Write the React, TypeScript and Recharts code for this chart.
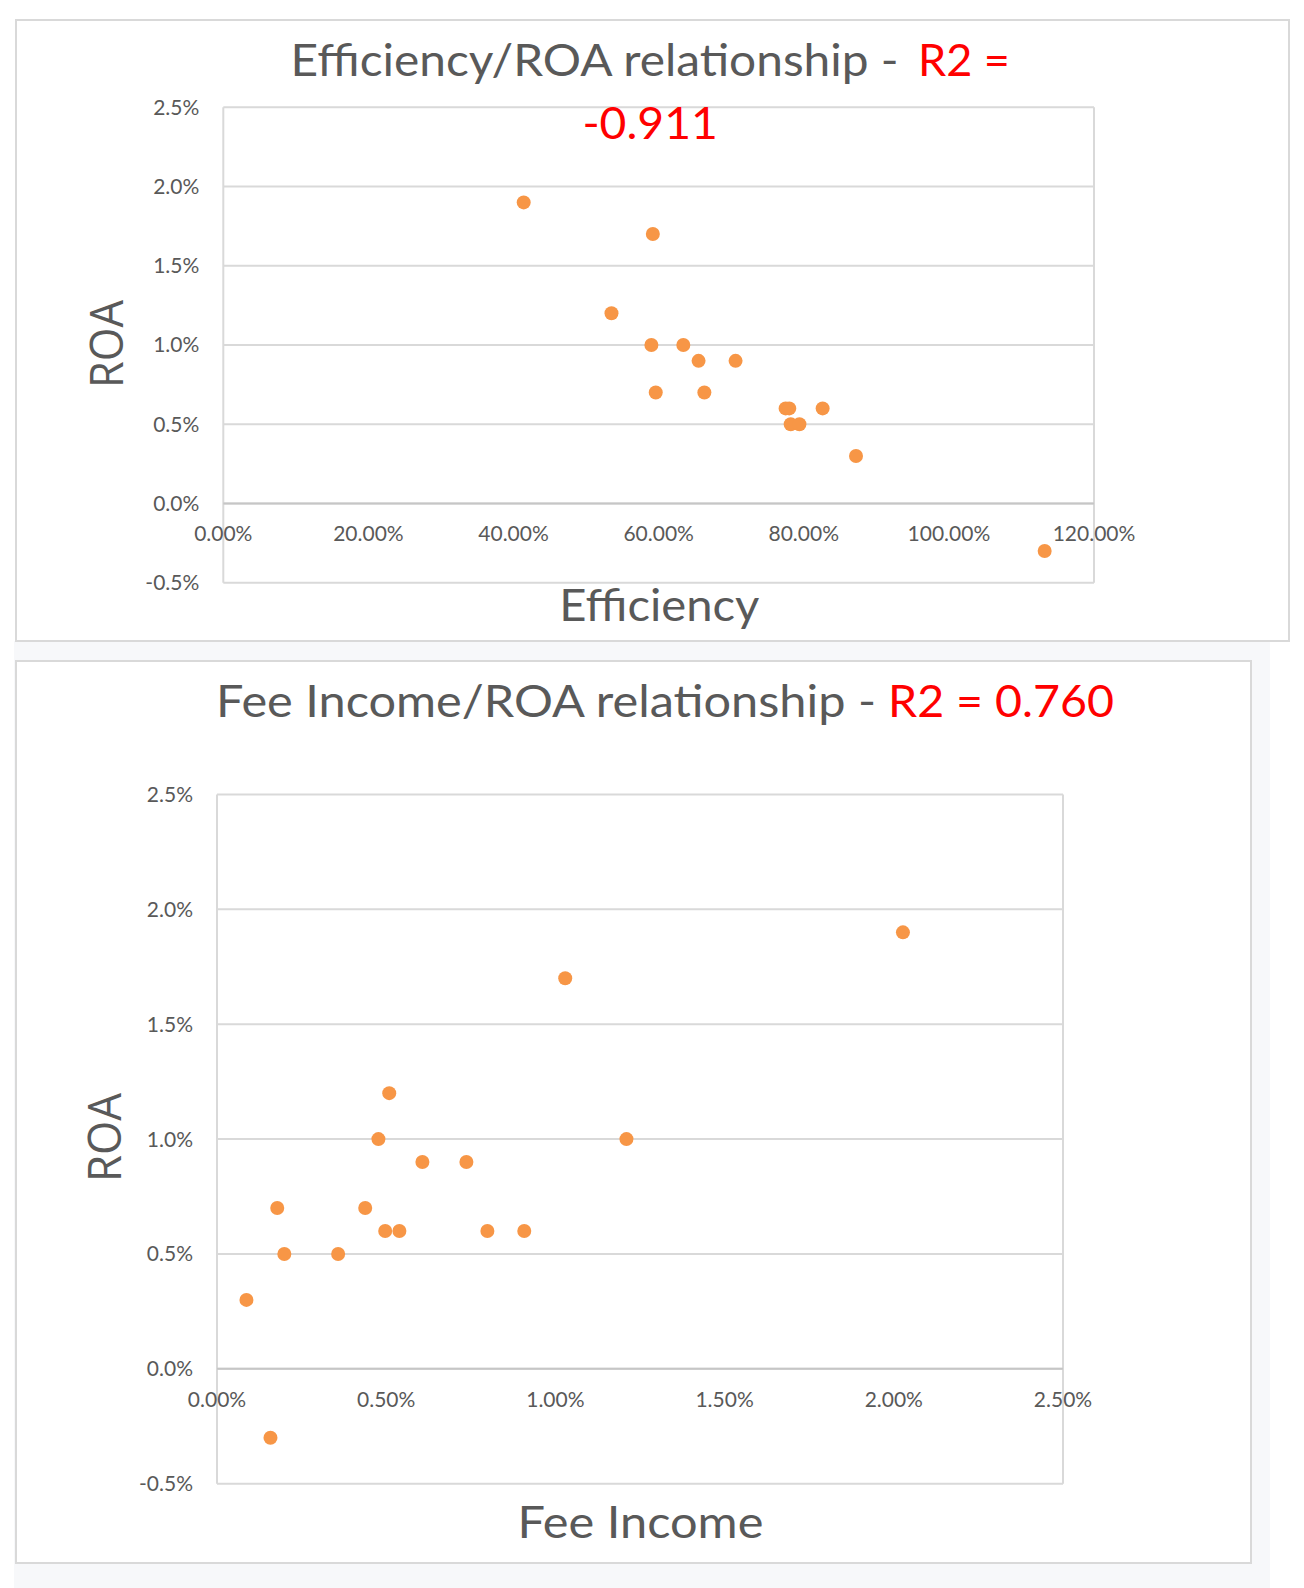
import React from 'react';
import {
  ScatterChart,
  Scatter,
  XAxis,
  YAxis,
  CartesianGrid,
  ReferenceLine,
  ReferenceDot,
} from 'recharts';

// ---------- data ----------
const efficiency = [41.4, 59.2, 53.5, 59.0, 63.4, 65.5, 70.6, 59.6, 66.3, 77.5, 78.0, 82.6, 78.2, 79.4, 87.2, 113.2];
const roaVsEfficiency = [1.9, 1.7, 1.2, 1.0, 1.0, 0.9, 0.9, 0.7, 0.7, 0.6, 0.6, 0.6, 0.5, 0.5, 0.3, -0.3];

const feeIncome = [2.027, 1.029, 0.509, 0.477, 1.21, 0.607, 0.737, 0.178, 0.438, 0.497, 0.539, 0.799, 0.908, 0.199, 0.358, 0.087, 0.158];
const roaVsFee = [1.9, 1.7, 1.2, 1.0, 1.0, 0.9, 0.9, 0.7, 0.7, 0.6, 0.6, 0.6, 0.6, 0.5, 0.5, 0.3, -0.3];

const effTicks = [0, 20, 40, 60, 80, 100, 120];
const feeTicks = [0, 0.5, 1.0, 1.5, 2.0, 2.5];
const roaTicks = [-0.5, 0, 0.5, 1.0, 1.5, 2.0, 2.5];

const titleEffGray = 'Efficiency/ROA relationship -';
const titleEffRed1 = 'R2 =';
const titleEffRed2 = '-0.911';
const titleFeeGray = 'Fee Income/ROA relationship -';
const titleFeeRed = 'R2 = 0.760';

// ---------- styles ----------
const DOT = '#F79646';
const GRID = '#d9d9d9';
const TEXT = '#595959';
const RED = '#FF0000';
const FONT = 'Lato, "Open Sans", sans-serif';

const effData = efficiency.map((x, i) => ({ x, y: roaVsEfficiency[i] }));
const feeData = feeIncome.map((x, i) => ({ x, y: roaVsFee[i] }));

const dotShape = (p: any) => <circle cx={p.cx} cy={p.cy} r={7} fill={DOT} />;

const tickStyle = { fill: TEXT, fontSize: 21, fontFamily: FONT };

function Chart({
  data,
  xTicks,
  xDomain,
  xFmt,
  width,
  height,
  margin,
}: {
  data: { x: number; y: number }[];
  xTicks: number[];
  xDomain: [number, number];
  xFmt: (v: number) => string;
  width: number;
  height: number;
  margin: { top: number; right: number; bottom: number; left: number };
}) {
  return (
    <ScatterChart width={width} height={height} margin={margin}>
      <CartesianGrid stroke={GRID} strokeWidth={2} />
      <XAxis
        type="number"
        dataKey="x"
        domain={xDomain}
        ticks={xTicks}
        tick={false}
        axisLine={false}
        tickLine={false}
        height={10}
        allowDataOverflow
      />
      <YAxis
        type="number"
        dataKey="y"
        domain={[-0.5, 2.5]}
        ticks={roaTicks}
        tickFormatter={(v: number) => v.toFixed(1) + '%'}
        axisLine={false}
        tickLine={false}
        tickSize={0}
        tickMargin={24}
        width={60}
        tick={tickStyle}
        allowDataOverflow
      />
      <ReferenceLine y={0} stroke="#c6c6c6" strokeWidth={2} />
      {xTicks.map((t) => (
        <ReferenceDot
          key={t}
          x={t}
          y={0}
          r={0}
          fill="none"
          stroke="none"
          label={{ value: xFmt(t), position: 'bottom', offset: 23, ...tickStyle }}
        />
      ))}
      <Scatter data={data} fill={DOT} shape={dotShape} isAnimationActive={false} />
    </ScatterChart>
  );
}

export default function App() {
  return (
    <div style={{ position: 'absolute', left: 0, top: 0, width: 1304, height: 1588, background: '#ffffff', overflow: 'hidden' }}>
      <div style={{ position: 'absolute', left: 14, top: 641, width: 1256, height: 947, background: '#f7f8fa' }} />
      <div style={{ position: 'absolute', left: 15, top: 19, width: 1275, height: 623, border: '2px solid #d9d9d9', boxSizing: 'border-box', background: '#fff' }} />
      <div style={{ position: 'absolute', left: 15, top: 660, width: 1237, height: 904, border: '2px solid #d9d9d9', boxSizing: 'border-box', background: '#fff' }} />

      <div style={{ position: 'absolute', left: 16, top: 20 }}>
        <Chart
          data={effData}
          xTicks={effTicks}
          xDomain={[0, 120]}
          xFmt={(v) => v.toFixed(2) + '%'}
          width={1273}
          height={621}
          margin={{ top: 87.3, right: 195, bottom: 48.3, left: 147.3 }}
        />
      </div>

      <div style={{ position: 'absolute', left: 16, top: 661 }}>
        <Chart
          data={feeData}
          xTicks={feeTicks}
          xDomain={[0, 2.5]}
          xFmt={(v) => v.toFixed(2) + '%'}
          width={1236}
          height={903}
          margin={{ top: 133.5, right: 189, bottom: 70.3, left: 141 }}
        />
      </div>

      <svg
        width={1304}
        height={1588}
        style={{ position: 'absolute', left: 0, top: 0, pointerEvents: 'none' }}
        fontFamily={FONT}
      >
        {/* chart 1 titles */}
        <text x={290.6} y={76} fontSize={44} fill={TEXT} textLength={608} lengthAdjust="spacingAndGlyphs">
          {titleEffGray}
        </text>
        <text x={918} y={76} fontSize={44} fill={RED} textLength={92} lengthAdjust="spacingAndGlyphs">
          {titleEffRed1}
        </text>
        <text x={582.4} y={138.5} fontSize={44} fill={RED} textLength={135.4} lengthAdjust="spacingAndGlyphs">
          {titleEffRed2}
        </text>
        <text x={559.3} y={621} fontSize={44} fill={TEXT} textLength={200} lengthAdjust="spacingAndGlyphs">
          Efficiency
        </text>
        <text
          transform="translate(123.3 388) rotate(-90)"
          fontSize={45}
          fill={TEXT}
          fontFamily='"Open Sans", sans-serif'
          textLength={88}
          lengthAdjust="spacingAndGlyphs"
        >
          ROA
        </text>

        {/* chart 2 titles */}
        <text x={216} y={717} fontSize={44} fill={TEXT} textLength={660} lengthAdjust="spacingAndGlyphs">
          {titleFeeGray}
        </text>
        <text x={888} y={717} fontSize={44} fill={RED} textLength={226} lengthAdjust="spacingAndGlyphs">
          {titleFeeRed}
        </text>
        <text x={517.4} y={1538} fontSize={44} fill={TEXT} textLength={246} lengthAdjust="spacingAndGlyphs">
          Fee Income
        </text>
        <text
          transform="translate(120.5 1182) rotate(-90)"
          fontSize={45}
          fill={TEXT}
          fontFamily='"Open Sans", sans-serif'
          textLength={89}
          lengthAdjust="spacingAndGlyphs"
        >
          ROA
        </text>
      </svg>
    </div>
  );
}
